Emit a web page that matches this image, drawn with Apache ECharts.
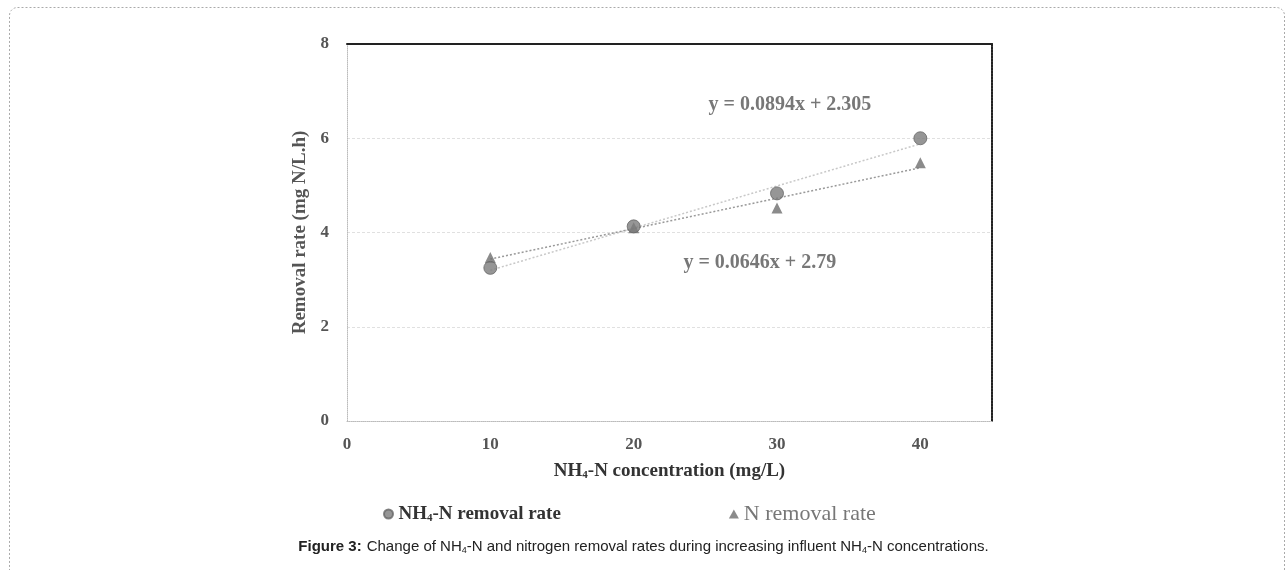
<!DOCTYPE html>
<html><head><meta charset="utf-8">
<script src="https://cdn.jsdelivr.net/npm/echarts@6/dist/echarts.min.js"></script>
<style>html,body{margin:0;padding:0;background:#fff;}#c{width:1287px;height:570px;}</style>
</head><body><div id="c"></div>
<script>
const xTicks = [0, 10, 20, 30, 40];
const yTicks = [0, 2, 4, 6, 8];
const concentration = [10, 20, 30, 40];
const nh4Removal = [3.25, 4.13, 4.83, 6.0];
const nRemoval = [3.47, 4.1, 4.52, 5.48];
const nh4TrendX = [10, 40];
const nh4TrendY = [3.199, 5.881];
const nTrendX = [10, 40];
const nTrendY = [3.436, 5.374];
const eqNh4 = { x: 30.9, y: 6.71, text: 'y = 0.0894x + 2.305' };
const eqN = { x: 28.8, y: 3.35, text: 'y = 0.0646x + 2.79' };

const serif = "'Liberation Serif', 'DejaVu Serif', serif";
const sans = "'Liberation Sans', Arial, sans-serif";
const chart = echarts.init(document.getElementById('c'));
const pts = (xs, ys) => xs.map((x, i) => [x, ys[i]]);

chart.setOption({
  animation: false,
  backgroundColor: '#fff',
  graphic: [{
    type: 'rect', left: 7, top: 5, shape: { width: 1275, height: 620, r: 8 },
    style: { fill: 'none', stroke: '#aaa', lineWidth: 1, lineDash: [2, 2] }, silent: true
  }],
  title: {
    text: '{b|Figure 3:} {n|Change of NH}{s|4}{n|-N and nitrogen removal rates during increasing influent NH}{s|4}{n|-N concentrations.}',
    left: 'center', top: 533,
    textStyle: {
      fontWeight: 'normal',
      rich: {
        b: { fontFamily: sans, fontSize: 15, fontWeight: 'bold', color: '#222' },
        n: { fontFamily: sans, fontSize: 15, fontWeight: 'normal', color: '#222' },
        s: { fontFamily: sans, fontSize: 9, fontWeight: 'normal', color: '#222', padding: [8, 0, 0, 0] }
      }
    }
  },
  legend: {
    left: 378, top: 498, itemGap: 168, itemWidth: 10, itemHeight: 9,
    data: [
      { name: 'NH4-N removal rate', icon: 'circle' },
      { name: 'N removal rate', icon: 'triangle' }
    ],
    formatter: function (name) {
      if (name === 'NH4-N removal rate') return '{a|NH}{s|4}{a|-N removal rate}';
      return '{g|' + name + '}';
    },
    textStyle: {
      fontFamily: serif, fontSize: 19, fontWeight: 'bold', color: '#333',
      rich: {
        a: { fontFamily: serif, fontSize: 19, fontWeight: 'bold', color: '#333' },
        s: { fontFamily: serif, fontSize: 11, fontWeight: 'bold', color: '#333', padding: [9, 0, 0, 0] },
        g: { fontFamily: serif, fontSize: 22, fontWeight: 'normal', color: '#777' }
      }
    }
  },
  grid: { left: 347, top: 44, width: 645, height: 377 },
  xAxis: [{
    type: 'value', min: 0, max: 45, interval: 10,
    axisLine: { show: true, onZero: false, lineStyle: { color: '#bbb', type: 'dotted' } },
    axisTick: { show: false },
    splitLine: { show: false },
    axisLabel: {
      fontFamily: serif, fontSize: 17, fontWeight: 'bold', color: '#555', margin: 15,
      formatter: v => (xTicks.indexOf(v) >= 0 ? String(v) : '')
    },
    name: '{a|NH}{s|4}{a|-N concentration (mg/L)}',
    nameLocation: 'middle', nameGap: 40,
    nameTextStyle: {
      rich: {
        a: { fontFamily: serif, fontSize: 19, fontWeight: 'bold', color: '#333' },
        s: { fontFamily: serif, fontSize: 11, fontWeight: 'bold', color: '#333', padding: [9, 0, 0, 0] }
      }
    }
  }, {
    type: 'value', min: 0, max: 45, position: 'top',
    axisLine: { show: true, onZero: false, lineStyle: { color: '#222', width: 2 } },
    axisTick: { show: false }, axisLabel: { show: false }, splitLine: { show: false }
  }],
  yAxis: [{
    type: 'value', min: 0, max: 8, interval: 2,
    axisLine: { show: true, onZero: false, lineStyle: { color: '#bbb', type: 'dotted' } },
    axisTick: { show: false },
    splitLine: { show: true, lineStyle: { color: '#e0e0e0', type: [3, 2] } },
    axisLabel: {
      fontFamily: serif, fontSize: 17, fontWeight: 'bold', color: '#555', margin: 18,
      formatter: v => (yTicks.indexOf(v) >= 0 ? String(v) : '')
    },
    name: 'Removal rate (mg N/L.h)', nameLocation: 'middle', nameGap: 32,
    nameTextStyle: { fontFamily: serif, fontSize: 19, fontWeight: 'bold', color: '#555' }
  }, {
    type: 'value', min: 0, max: 8, position: 'right',
    axisLine: { show: true, onZero: false, lineStyle: { color: '#222', width: 2, type: [2, 1] } },
    axisTick: { show: false }, axisLabel: { show: false }, splitLine: { show: false }
  }],
  series: [
    {
      name: 'NH4-N trend', type: 'line', data: pts(nh4TrendX, nh4TrendY), symbol: 'none',
      lineStyle: { color: '#c8c8c8', width: 1.5, type: [2, 2] }, z: 1, silent: true
    },
    {
      name: 'N trend', type: 'line', data: pts(nTrendX, nTrendY), symbol: 'none',
      lineStyle: { color: '#999', width: 1.5, type: [2, 2] }, z: 1, silent: true
    },
    {
      name: 'N removal rate', type: 'scatter', data: pts(concentration, nRemoval),
      symbol: 'triangle', symbolSize: 11, itemStyle: { color: '#6e6e6e' }, z: 3
    },
    {
      name: 'NH4-N removal rate', type: 'scatter', data: pts(concentration, nh4Removal),
      symbol: 'circle', symbolSize: 13, itemStyle: { color: '#7c7c7c', borderColor: '#666', borderWidth: 1 }, z: 4
    },
    {
      name: 'equations', type: 'scatter', symbolSize: 0, silent: true,
      data: [
        { value: [eqNh4.x, eqNh4.y], label: { formatter: eqNh4.text } },
        { value: [eqN.x, eqN.y], label: { formatter: eqN.text } }
      ],
      label: { show: true, position: 'inside', fontFamily: serif, fontSize: 20, fontWeight: 'bold', color: '#555' }
    }
  ]
});
</script></body></html>
